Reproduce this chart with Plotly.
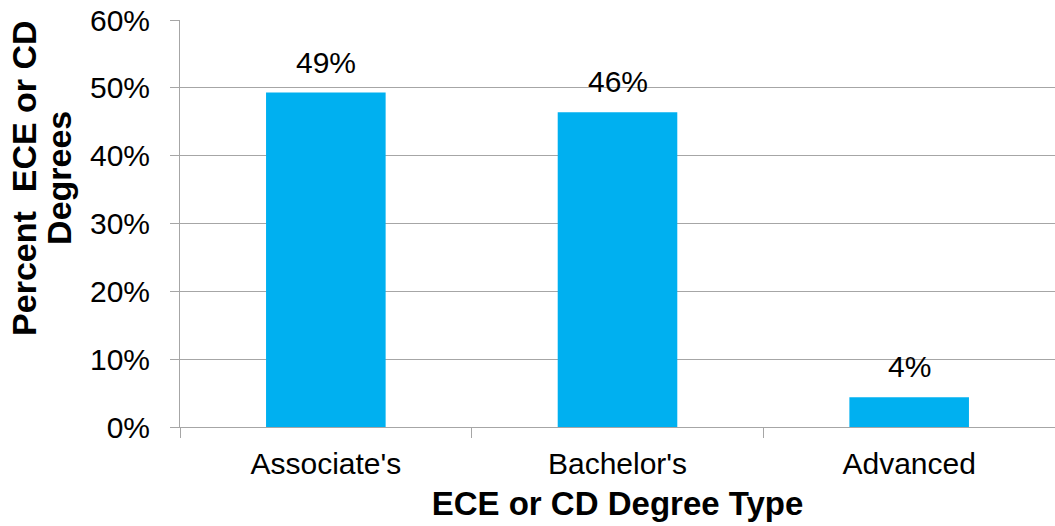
import plotly.graph_objects as go

# Degree types and share of ECE / CD degrees
categories = ["Associate's", "Bachelor's", "Advanced"]
shares = [0.493, 0.464, 0.044]
labels = ["49%", "46%", "4%"]

BAR = "#00B0F0"
GRID = "#A6A6A6"
FONT = "Liberation Sans, Arial, sans-serif"

fig = go.Figure(
    go.Bar(
        x=categories,
        y=shares,
        marker=dict(color=BAR, line=dict(width=0)),
        hoverinfo="skip",
    )
)

# value labels above each bar
for cat, val, lab in zip(categories, shares, labels):
    fig.add_annotation(
        x=cat, y=val, text=lab, showarrow=False,
        yanchor="bottom", yshift=12,
        font=dict(family=FONT, size=30, color="black"),
    )

# rotated y-axis title, one annotation per line for tight line spacing
for line, shift in (("Percent\u00a0 ECE or CD", -156), ("Degrees", -121)):
    fig.add_annotation(
        xref="paper", yref="paper", x=0, y=0.612,
        xshift=shift, xanchor="center", yanchor="middle",
        text=f"<b>{line}</b>",
        textangle=-90, showarrow=False,
        font=dict(family=FONT, size=34, color="black"),
    )

fig.update_layout(
    width=1055, height=526,
    margin=dict(l=180, r=0, t=20, b=99),
    paper_bgcolor="white", plot_bgcolor="white",
    bargap=0.59,
    showlegend=False,
    font=dict(family=FONT, size=30, color="black"),
    xaxis=dict(
        showline=True, linecolor=GRID, linewidth=1,
        ticks="outside", tickson="boundaries", ticklen=10,
        tickcolor=GRID, tickwidth=1,
        ticklabelstandoff=10,
        tickfont=dict(family=FONT, size=30, color="black"),
        title=dict(text="<b>ECE or CD Degree Type</b>", standoff=12,
                   font=dict(family=FONT, size=33, color="black")),
        automargin=False,
    ),
    yaxis=dict(
        range=[0, 0.6], dtick=0.1, tickformat=".0%",
        showgrid=True, gridcolor=GRID, gridwidth=1,
        showline=True, linecolor=GRID, linewidth=1,
        ticks="outside", ticklen=9, tickcolor=GRID, tickwidth=1,
        ticklabelstandoff=14,
        tickfont=dict(family=FONT, size=30, color="black"),
        zeroline=False,
        automargin=False,
    ),
)

fig.write_html("out.html")
